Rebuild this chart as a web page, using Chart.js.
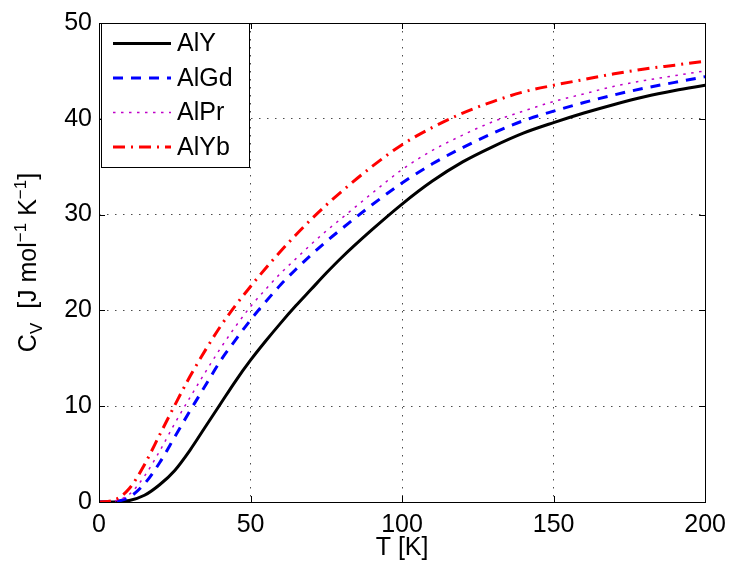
<!DOCTYPE html>
<html>
<head>
<meta charset="utf-8">
<script src="https://cdn.jsdelivr.net/npm/chart.js@4.4.0/dist/chart.umd.min.js"></script>
<style>
html, body { margin: 0; padding: 0; background: #fff; }
</style>
</head>
<body>
<canvas id="chart" width="734" height="565"></canvas>
<script>
// temperature grid [K]
var temps = [0, 5, 10, 15, 20, 25, 30, 35, 40, 45, 50, 55, 60, 65, 70, 75, 80, 90, 100, 110, 120, 130, 140, 150, 160, 170, 180, 190, 200];

// heat capacity C_V [J mol^-1 K^-1]
var cvAlY  = [0, 0, 0.15, 0.7, 1.8, 3.3, 5.4, 7.8, 10.2, 12.6, 14.8, 16.8, 18.7, 20.5, 22.2, 23.9, 25.5, 28.4, 31.1, 33.5, 35.5, 37.1, 38.5, 39.6, 40.6, 41.5, 42.3, 42.95, 43.5];
var cvAlGd = [0, 0.05, 0.5, 1.9, 4.1, 6.8, 9.5, 12.1, 14.7, 16.9, 19.0, 20.9, 22.7, 24.3, 25.8, 27.2, 28.5, 31.0, 33.3, 35.3, 37.0, 38.5, 39.8, 40.8, 41.7, 42.5, 43.2, 43.8, 44.4];
var cvAlPr = [0, 0.1, 0.8, 2.7, 5.3, 8.2, 10.9, 13.5, 16.0, 18.3, 20.4, 22.2, 23.9, 25.4, 26.9, 28.3, 29.6, 32.2, 34.7, 36.7, 38.3, 39.7, 40.8, 41.8, 42.6, 43.4, 44.0, 44.5, 45.0];
var cvAlYb = [0, 0.2, 1.4, 3.9, 7.0, 10.1, 13.1, 15.8, 18.3, 20.5, 22.5, 24.4, 26.2, 27.9, 29.5, 31.0, 32.4, 35.0, 37.3, 39.1, 40.6, 41.8, 42.8, 43.5, 44.1, 44.7, 45.2, 45.6, 46.0];

var seriesNames = ["AlY", "AlGd", "AlPr", "AlYb"];

var xTicks = [0, 50, 100, 150, 200];
var yTicks = [0, 10, 20, 30, 40, 50];

var FONT = "'Liberation Sans', Arial, Helvetica, sans-serif";
var FS = 25;

function toPoints(ys) {
    var pts = [];
    for (var i = 0; i < temps.length; i++) {
        pts.push({ x: temps[i], y: ys[i] });
    }
    return pts;
}

// frame, inward ticks, y title and legend
var matlabBits = {
    id: "matlabBits",
    afterDatasetsDraw: function (chart) {
        var ctx = chart.ctx;
        var a = chart.chartArea;
        var xs = chart.scales.x, ys = chart.scales.y;
        var tl = 6;

        ctx.save();
        ctx.strokeStyle = "#000";
        ctx.lineWidth = 1;
        ctx.setLineDash([]);
        ctx.beginPath();
        for (var i = 0; i < xTicks.length; i++) {
            var px = Math.round(xs.getPixelForValue(xTicks[i])) + 0.5;
            ctx.moveTo(px, a.bottom); ctx.lineTo(px, a.bottom - tl);
            ctx.moveTo(px, a.top); ctx.lineTo(px, a.top + tl);
        }
        for (var j = 0; j < yTicks.length; j++) {
            var py = Math.round(ys.getPixelForValue(yTicks[j])) + 0.5;
            ctx.moveTo(a.left, py); ctx.lineTo(a.left + tl, py);
            ctx.moveTo(a.right, py); ctx.lineTo(a.right - tl, py);
        }
        ctx.stroke();
        ctx.strokeRect(Math.round(a.left) + 0.5, Math.round(a.top) + 0.5,
                       Math.round(a.right - a.left), Math.round(a.bottom - a.top));
        ctx.restore();
    },
    afterDraw: function (chart) {
        var ctx = chart.ctx;
        var a = chart.chartArea;

        // y axis title with sub/superscripts
        var parts = [
            { t: "C", s: FS, dy: 0 },
            { t: "V", s: 17, dy: 6 },
            { t: "  [J mol", s: FS, dy: 0 },
            { t: "\u22121", s: 17, dy: -10 },
            { t: " K", s: FS, dy: 0 },
            { t: "\u22121", s: 17, dy: -10 },
            { t: "]", s: FS, dy: 0 }
        ];
        ctx.save();
        var total = 0;
        for (var i = 0; i < parts.length; i++) {
            ctx.font = parts[i].s + "px " + FONT;
            parts[i].w = ctx.measureText(parts[i].t).width;
            total += parts[i].w;
        }
        ctx.translate(36, (a.top + a.bottom) / 2);
        ctx.rotate(-Math.PI / 2);
        ctx.fillStyle = "#000";
        ctx.textBaseline = "alphabetic";
        var u = -total / 2;
        for (var k = 0; k < parts.length; k++) {
            ctx.font = parts[k].s + "px " + FONT;
            ctx.fillText(parts[k].t, u, parts[k].dy);
            u += parts[k].w;
        }
        ctx.restore();

        // legend box
        var bx = 101, by = 23, bw = 148, bh = 144;
        ctx.save();
        ctx.fillStyle = "#fff";
        ctx.fillRect(bx, by, bw, bh);
        ctx.strokeStyle = "#000";
        ctx.lineWidth = 1;
        ctx.strokeRect(bx + 0.5, by + 0.5, bw, bh);
        var rows = [43.5, 78, 112.5, 147];
        var dsets = chart.data.datasets;
        for (var r = 0; r < dsets.length; r++) {
            var d = dsets[r];
            ctx.beginPath();
            ctx.strokeStyle = d.borderColor;
            ctx.lineWidth = d.borderWidth;
            ctx.setLineDash(d.borderDash || []);
            ctx.moveTo(113, rows[r]);
            ctx.lineTo(171, rows[r]);
            ctx.stroke();
            ctx.setLineDash([]);
            ctx.fillStyle = "#000";
            ctx.font = FS + "px " + FONT;
            ctx.textBaseline = "middle";
            ctx.fillText(d.label, 177, rows[r] + 1);
        }
        ctx.restore();
    }
};

var ctx = document.getElementById("chart").getContext("2d");
var chart = new Chart(ctx, {
    type: "line",
    data: {
        datasets: [
            { label: seriesNames[0], data: toPoints(cvAlY), borderColor: "#000000", borderWidth: 3, borderDash: [], order: 4 },
            { label: seriesNames[1], data: toPoints(cvAlGd), borderColor: "#0000ff", borderWidth: 3, borderDash: [10, 8], order: 3 },
            { label: seriesNames[2], data: toPoints(cvAlPr), borderColor: "#c000c8", borderWidth: 1.5, borderDash: [2.5, 5.5], order: 2 },
            { label: seriesNames[3], data: toPoints(cvAlYb), borderColor: "#ff0000", borderWidth: 3, borderDash: [12, 6, 2, 6], order: 1 }
        ]
    },
    options: {
        responsive: false,
        animation: false,
        devicePixelRatio: 1,
        layout: { padding: { top: 23, right: 27, left: 0, bottom: 0 } },
        elements: {
            point: { radius: 0 },
            line: { tension: 0.4, cubicInterpolationMode: "monotone", fill: false }
        },
        plugins: {
            legend: { display: false },
            tooltip: { enabled: false }
        },
        scales: {
            x: {
                type: "linear",
                min: 0, max: 200,
                afterBuildTicks: function (s) { s.ticks = xTicks.map(function (v) { return { value: v }; }); },
                afterFit: function (s) { s.height = 63; },
                ticks: { color: "#000", font: { family: FONT, size: FS }, padding: 8, maxRotation: 0 },
                grid: { color: "rgba(0,0,0,0.7)", lineWidth: 1, drawTicks: false },
                border: { display: false, dash: [1.5, 6.5] },
                title: { display: true, text: "T [K]", color: "#000", font: { family: FONT, size: FS }, padding: { top: 0, bottom: 2 } }
            },
            y: {
                type: "linear",
                min: 0, max: 50,
                afterBuildTicks: function (s) { s.ticks = yTicks.map(function (v) { return { value: v }; }); },
                afterFit: function (s) { s.width = 99; },
                ticks: { color: "#000", font: { family: FONT, size: FS }, padding: 7 },
                grid: { color: "rgba(0,0,0,0.7)", lineWidth: 1, drawTicks: false },
                border: { display: false, dash: [1.5, 6.5] }
            }
        }
    },
    plugins: [matlabBits]
});
</script>
</body>
</html>
